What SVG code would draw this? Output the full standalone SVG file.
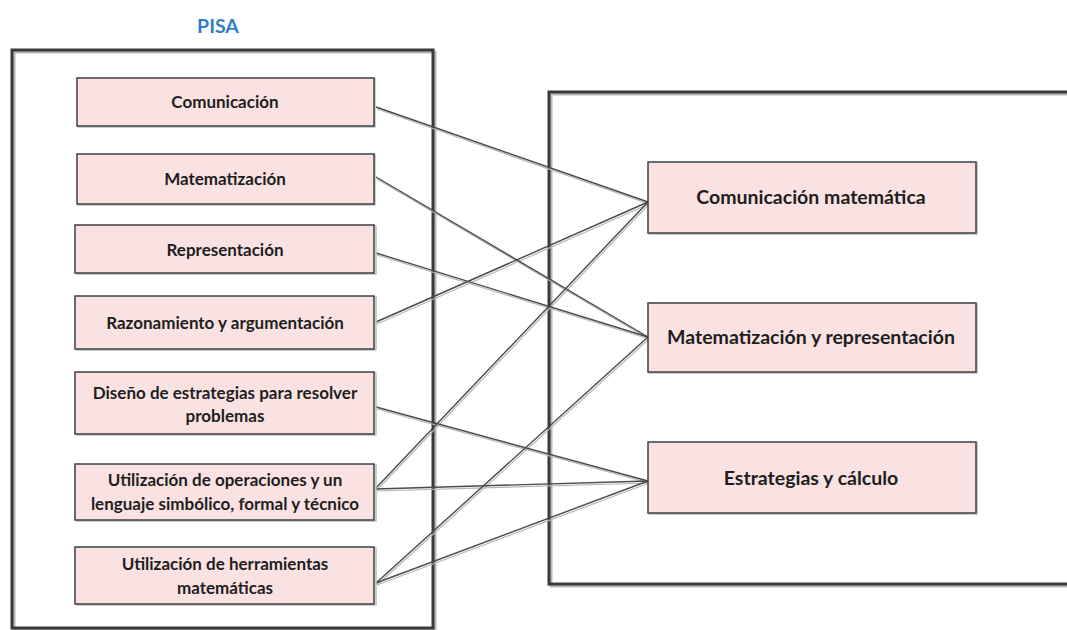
<svg xmlns="http://www.w3.org/2000/svg" width="1067" height="630" viewBox="0 0 1067 630">
<defs>
<style>
.frame{fill:none;stroke:#3a3a3a;stroke-width:3}
.frameShadow{fill:none;stroke:#b8b8b8;stroke-width:3}
.box{fill:#fae1e2;stroke:#3f3f3f;stroke-width:1.5}
.boxShadow{fill:none;stroke:#bdbdbd;stroke-width:1.5}
.t{font-family:Lato,"Open Sans","Liberation Sans",sans-serif;font-weight:bold;fill:#1e1e1e;text-anchor:middle;dominant-baseline:central}
.s{font-size:17px}
.l{font-size:19.5px}
.c{fill:none;stroke:#4a4a4a;stroke-width:1.4}
.cs{fill:none;stroke:#b5b5b5;stroke-width:1.2}
</style>
</defs>
<rect width="1067" height="630" fill="#ffffff"/>
<text x="218" y="25" font-family="Lato,'Open Sans','Liberation Sans',sans-serif" font-weight="bold" font-size="19.5" fill="#2f7fc8" text-anchor="middle" dominant-baseline="central">PISA</text>
<g id="frame-left">
<rect class="frameShadow" x="14" y="52" width="421" height="578"/>
<rect class="frame" x="12" y="50" width="421" height="578"/>
</g>
<g id="frame-right">
<rect class="frameShadow" x="551" y="94" width="530" height="492"/>
<rect class="frame" x="549" y="92" width="530" height="492"/>
</g>
<g id="connectors">
<g transform="translate(1,2)" class="cs">
<path d="M376,107 L648,202"/>
<path d="M376,177 L648,337"/>
<path d="M376,253 L648,337"/>
<path d="M376,322 L648,202"/>
<path d="M376,407 L648,481"/>
<path d="M376,488 L648,202"/>
<path d="M376,489 L648,481"/>
<path d="M376,583 L648,337"/>
<path d="M376,583 L648,481"/>
</g>
<g class="c">
<path d="M376,107 L648,202"/>
<path d="M376,177 L648,337"/>
<path d="M376,253 L648,337"/>
<path d="M376,322 L648,202"/>
<path d="M376,407 L648,481"/>
<path d="M376,488 L648,202"/>
<path d="M376,489 L648,481"/>
<path d="M376,583 L648,337"/>
<path d="M376,583 L648,481"/>
</g>
</g>
<g id="n-comunicacion">
<rect class="boxShadow" x="78" y="79" width="297" height="48"/>
<rect class="box" x="77" y="78" width="297" height="48"/>
<text class="t s" x="225" y="101">Comunicación</text>
</g>
<g id="n-matematizacion">
<rect class="boxShadow" x="78" y="155" width="297" height="50"/>
<rect class="box" x="77" y="154" width="297" height="50"/>
<text class="t s" x="225" y="178">Matematización</text>
</g>
<g id="n-representacion">
<rect class="boxShadow" x="77" y="226" width="299" height="48"/>
<rect class="box" x="75" y="225" width="299" height="48"/>
<text class="t s" x="225" y="249">Representación</text>
</g>
<g id="n-razonamiento">
<rect class="boxShadow" x="77" y="297" width="299" height="53"/>
<rect class="box" x="75" y="296" width="299" height="53"/>
<text class="t s" x="225" y="322">Razonamiento y argumentación</text>
</g>
<g id="n-diseno">
<rect class="boxShadow" x="77" y="373" width="299" height="62"/>
<rect class="box" x="75" y="372" width="299" height="62"/>
<text class="t s" x="225" y="392">Diseño de estrategias para resolver</text>
<text class="t s" x="225" y="415">problemas</text>
</g>
<g id="n-operaciones">
<rect class="boxShadow" x="77" y="465" width="299" height="56"/>
<rect class="box" x="75" y="464" width="299" height="56"/>
<text class="t s" x="225" y="479">Utilización de operaciones y un</text>
<text class="t s" x="225" y="503">lenguaje simbólico, formal y técnico</text>
</g>
<g id="n-herramientas">
<rect class="boxShadow" x="77" y="548" width="299" height="57"/>
<rect class="box" x="75" y="547" width="299" height="57"/>
<text class="t s" x="225" y="563">Utilización de herramientas</text>
<text class="t s" x="225" y="587">matemáticas</text>
</g>
<g id="n-com-mat">
<rect class="boxShadow" x="649" y="163" width="328" height="71"/>
<rect class="box" x="648" y="162" width="328" height="71"/>
<text class="t l" x="811" y="196">Comunicación matemática</text>
</g>
<g id="n-mat-rep">
<rect class="boxShadow" x="649" y="304" width="328" height="69"/>
<rect class="box" x="648" y="303" width="328" height="69"/>
<text class="t l" x="811" y="336">Matematización y representación</text>
</g>
<g id="n-estrategias">
<rect class="boxShadow" x="649" y="443" width="328" height="71"/>
<rect class="box" x="648" y="442" width="328" height="71"/>
<text class="t l" x="811" y="477">Estrategias y cálculo</text>
</g>
</svg>
